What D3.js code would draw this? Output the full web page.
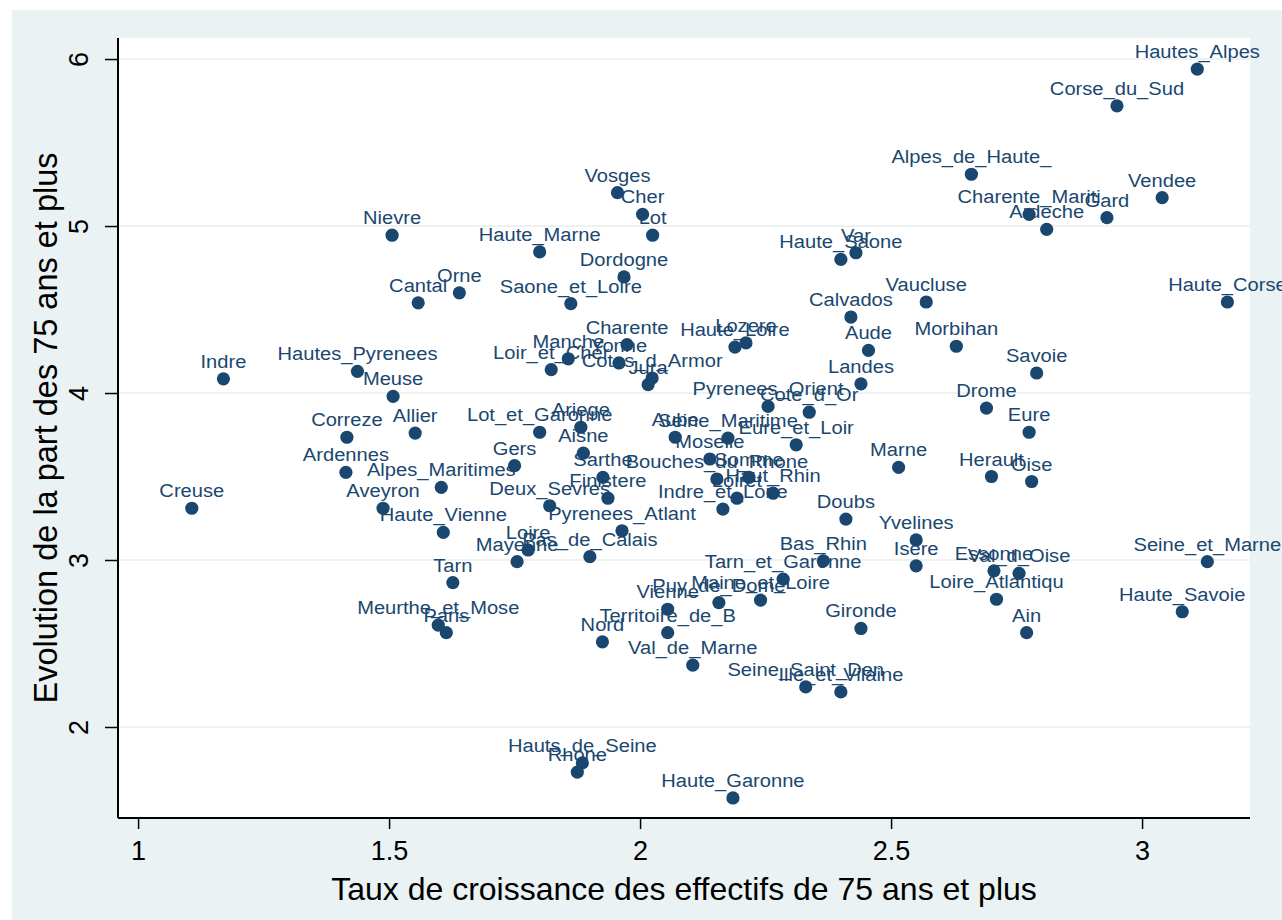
<!DOCTYPE html>
<html>
<head>
<meta charset="utf-8">
<script src="https://cdn.jsdelivr.net/npm/d3@7"></script>
<style>
  html, body { margin: 0; padding: 0; background: #ffffff; }
  svg { display: block; font-family: "Liberation Sans", Arial, sans-serif; }
</style>
</head>
<body>
<svg id="chart" width="1282" height="920"></svg>
<script>
// Départements: growth rate of the 75+ population vs change in their share
const departements = [
  "Hautes_Alpes","Corse_du_Sud","Alpes_de_Haute_","Vendee","Charente_Mariti","Gard","Ardeche",
  "Var","Haute_Saone","Vaucluse","Haute_Corse","Calvados","Morbihan","Aude","Savoie","Landes",
  "Drome","Eure","Marne","Herault","Oise","Doubs","Yvelines","Isere","Essonne","Val_d_Oise",
  "Loire_Atlantiqu","Ain","Seine_et_Marne","Haute_Savoie","Gironde","Seine_Saint_Den",
  "Ille_et_Vilaine","Bas_Rhin","Tarn_et_Garonne","Maine_et_Loire","Puy_de_Dome","Vienne",
  "Territoire_de_B","Nord","Val_de_Marne","Hauts_de_Seine","Rhone","Haute_Garonne","Vosges",
  "Cher","Lot","Haute_Marne","Dordogne","Saone_et_Loire","Nievre","Cantal","Orne","Indre",
  "Hautes_Pyrenees","Meuse","Correze","Allier","Lot_et_Garonne","Ariege","Aisne","Gers",
  "Ardennes","Alpes_Maritimes","Creuse","Aveyron","Haute_Vienne","Deux_Sevres","Sarthe",
  "Finistere","Pyrenees_Atlant","Loire","Mayenne","Pas_de_Calais","Tarn","Meurthe_et_Mose",
  "Paris","Charente","Manche","Yonne","Loir_et_Cher","Cotes_d_Armor","Jura","Haute_Loire",
  "Lozere","Pyrenees_Orient","Cote_d_Or","Aube","Seine_Maritime","Eure_et_Loir","Moselle",
  "Bouches_du_Rhone","Somme","Haut_Rhin","Loiret","Indre_et_Loire"
];

const tauxCroissance = [
  3.11, 2.95, 2.66, 3.04, 2.775, 2.93, 2.81,
  2.43, 2.40, 2.57, 3.17, 2.42, 2.63, 2.455, 2.79, 2.44,
  2.69, 2.775, 2.515, 2.70, 2.78, 2.41, 2.55, 2.55, 2.705, 2.755,
  2.71, 2.77, 3.13, 3.08, 2.44, 2.33,
  2.40, 2.365, 2.285, 2.24, 2.157, 2.055,
  2.055, 1.925, 2.105, 1.885, 1.875, 2.185, 1.955,
  2.005, 2.025, 1.80, 1.968, 1.862, 1.506, 1.558, 1.64, 1.17,
  1.437, 1.508, 1.416, 1.552, 1.80, 1.882, 1.887, 1.75,
  1.414, 1.604, 1.107, 1.488, 1.608, 1.82, 1.926,
  1.936, 1.964, 1.777, 1.755, 1.90, 1.627, 1.598,
  1.614, 1.974, 1.857, 1.958, 1.823, 2.024, 2.016, 2.189,
  2.211, 2.255, 2.337, 2.07, 2.175, 2.311, 2.139,
  2.153, 2.217, 2.265, 2.193, 2.165
];

const evolutionPart = [
  5.94, 5.72, 5.31, 5.17, 5.07, 5.05, 4.98,
  4.84, 4.80, 4.545, 4.545, 4.455, 4.28, 4.255, 4.12, 4.055,
  3.91, 3.765, 3.555, 3.50, 3.47, 3.245, 3.12, 2.965, 2.935, 2.92,
  2.765, 2.565, 2.99, 2.69, 2.59, 2.24,
  2.21, 2.995, 2.885, 2.76, 2.745, 2.705,
  2.565, 2.51, 2.37, 1.785, 1.73, 1.575, 5.20,
  5.07, 4.945, 4.845, 4.695, 4.535, 4.945, 4.54, 4.60, 4.085,
  4.13, 3.98, 3.735, 3.76, 3.765, 3.795, 3.64, 3.565,
  3.525, 3.435, 3.31, 3.31, 3.165, 3.325, 3.495,
  3.37, 3.175, 3.06, 2.99, 3.02, 2.865, 2.61,
  2.565, 4.29, 4.205, 4.18, 4.14, 4.09, 4.05, 4.275,
  4.30, 3.92, 3.885, 3.735, 3.73, 3.69, 3.605,
  3.485, 3.495, 3.40, 3.37, 3.305
];

const xTicks = [1, 1.5, 2, 2.5, 3];
const yTicks = [2, 3, 4, 5, 6];
const xTitle = "Taux de croissance des effectifs de 75 ans et plus";
const yTitle = "Evolution de la part des 75 ans et plus";

const points = departements.map((name, i) => ({ name, x: tauxCroissance[i], y: evolutionPart[i] }));

const svg = d3.select("#chart");
const W = 1282, H = 920;
const plot = { left: 118, right: 1250, top: 38, bottom: 818 };
const navy = "#1a476f";

// graph region and plot region backgrounds
svg.append("rect").attr("x", 0).attr("y", 0).attr("width", W).attr("height", H).attr("fill", "#ffffff");
svg.append("rect").attr("x", 12).attr("y", 10).attr("width", W - 12).attr("height", H - 10).attr("fill", "#eaf2f3");
svg.append("rect")
  .attr("x", plot.left).attr("y", plot.top)
  .attr("width", plot.right - plot.left).attr("height", plot.bottom - plot.top)
  .attr("fill", "#ffffff");

const x = d3.scaleLinear().domain([0.96, 3.215]).range([plot.left, plot.right]);
const y = d3.scaleLinear().domain([1.455, 6.126]).range([plot.bottom, plot.top]);

// horizontal grid lines
svg.append("g").selectAll("line").data(yTicks).join("line")
  .attr("x1", plot.left).attr("x2", plot.right)
  .attr("y1", d => y(d)).attr("y2", d => y(d))
  .attr("stroke", "#e9eeef").attr("stroke-width", 1.5);

// x axis
const xAxis = svg.append("g")
  .attr("transform", `translate(0,${plot.bottom})`)
  .call(d3.axisBottom(x).tickValues(xTicks).tickSize(11).tickPadding(12).tickFormat(d3.format("")));
xAxis.select(".domain").attr("d", `M${plot.left},0H${plot.right}`).attr("stroke", "#000").attr("stroke-width", 2);
xAxis.selectAll(".tick line").attr("stroke", "#000").attr("stroke-width", 1.5);
xAxis.selectAll(".tick text")
  .attr("font-family", "Liberation Sans, Arial, sans-serif")
  .attr("font-size", 27).attr("fill", "#000");

// y axis with rotated tick labels
const yAxis = svg.append("g")
  .attr("transform", `translate(${plot.left},0)`)
  .call(d3.axisLeft(y).tickValues(yTicks).tickSize(13).tickFormat(d3.format("d")));
yAxis.select(".domain").attr("d", `M0,${plot.top}V${plot.bottom}`).attr("stroke", "#000").attr("stroke-width", 2);
yAxis.selectAll(".tick line").attr("stroke", "#000").attr("stroke-width", 1.5);
yAxis.selectAll(".tick text")
  .attr("font-family", "Liberation Sans, Arial, sans-serif")
  .attr("font-size", 27).attr("fill", "#000")
  .attr("x", null).attr("dy", null)
  .attr("text-anchor", "middle")
  .attr("transform", "translate(-30,0) rotate(-90)");

// axis titles
svg.append("text")
  .attr("x", (plot.left + plot.right) / 2).attr("y", 900)
  .attr("text-anchor", "middle")
  .attr("font-size", 32).attr("fill", "#000")
  .text(xTitle);
svg.append("text")
  .attr("transform", `translate(57,${(plot.top + plot.bottom) / 2}) rotate(-90)`)
  .attr("text-anchor", "middle")
  .attr("font-size", 32.5).attr("fill", "#000")
  .text(yTitle);

// markers and their labels
const pts = svg.append("g").selectAll("g").data(points).join("g")
  .attr("transform", d => `translate(${x(d.x)},${y(d.y)})`);
pts.append("circle").attr("r", 6.6).attr("fill", navy);
pts.append("text")
  .attr("y", -11)
  .attr("transform", "scale(1.06,1)")
  .attr("text-anchor", "middle")
  .attr("font-size", 19)
  .attr("fill", navy)
  .text(d => d.name);
</script>
</body>
</html>
